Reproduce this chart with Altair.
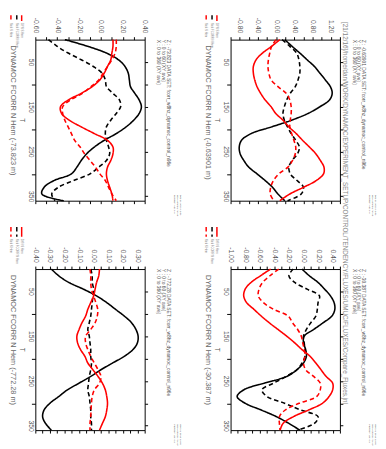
import altair as alt
import pandas as pd

# ---------------- data ----------------
T = [0, 15, 30, 45, 60, 75, 90, 105, 120, 135, 150, 165, 180,
     195, 210, 225, 240, 255, 270, 285, 300, 315, 330, 345, 360]

SERIES = ["DYNAMOC FCORR N Hem", "Nick FCORR N Hem", "DYN S Hem", "Nick S Hem"]
COLORS = ["#000000", "#000000", "#ff0000", "#ff0000"]
DASHES = [[1, 0], [4.5, 3], [1, 0], [4.5, 3]]

A_BLACK_SOLID = [-0.33, -0.12, 0.05, 0.16, 0.22, 0.25, 0.26, 0.27, 0.31, 0.35, 0.37, 0.35, 0.30,
                 0.23, 0.14, 0.03, -0.06, -0.13, -0.18, -0.22, -0.27, -0.43, -0.52, -0.54, -0.34]
A_BLACK_DASH = [-0.48, -0.40, -0.30, -0.18, -0.07, 0.01, 0.04, 0.05, 0.11, 0.17, 0.18, 0.14, 0.09,
                0.05, 0.04, 0.05, 0.07, 0.08, 0.05, -0.02, -0.10, -0.25, -0.39, -0.45, -0.42]
A_RED_SOLID = [0.11, 0.11, 0.10, 0.09, 0.06, 0.03, -0.01, -0.08, -0.18, -0.30, -0.37, -0.36, -0.29,
               -0.18, -0.06, 0.06, 0.11, 0.11, 0.09, 0.06, 0.05, 0.06, 0.08, 0.10, 0.11]
A_RED_DASH = [0.14, 0.14, 0.13, 0.10, 0.06, 0.02, -0.02, -0.09, -0.17, -0.28, -0.35, -0.35, -0.33,
              -0.30, -0.27, -0.24, -0.19, -0.15, -0.10, -0.05, -0.01, 0.04, 0.07, 0.10, 0.14]

B_BLACK_SOLID = [0.19, 0.35, 0.52, 0.68, 0.84, 0.96, 1.08, 1.19, 1.23, 1.17, 0.96, 0.70, 0.34,
                 -0.10, -0.55, -0.76, -0.81, -0.79, -0.71, -0.60, -0.42, -0.24, -0.08, 0.04, 0.19]
B_BLACK_DASH = [0.13, 0.30, 0.45, 0.50, 0.52, 0.52, 0.48, 0.42, 0.31, 0.23, 0.18, 0.15, 0.18,
                0.25, 0.33, 0.43, 0.51, 0.47, 0.35, 0.28, 0.31, 0.46, 0.60, 0.55, 0.25]
B_RED_SOLID = [0.08, -0.10, -0.30, -0.44, -0.50, -0.50, -0.47, -0.42, -0.34, -0.24, -0.11, -0.01, 0.15,
               0.28, 0.44, 0.58, 0.73, 0.87, 0.97, 1.05, 1.04, 0.88, 0.60, 0.30, 0.08]
B_RED_DASH = [0.00, -0.10, -0.14, -0.17, -0.18, -0.16, -0.11, 0.04, 0.22, 0.30, 0.33, 0.33, 0.31,
              0.30, 0.34, 0.39, 0.43, 0.42, 0.36, 0.26, 0.06, -0.06, -0.12, -0.13, -0.05]

C_BLACK_SOLID = [-0.29, -0.24, -0.17, -0.07, 0.02, 0.09, 0.15, 0.21, 0.26, 0.29, 0.305, 0.30, 0.27,
                 0.21, 0.13, 0.05, -0.02, -0.10, -0.18, -0.24, -0.30, -0.34, -0.35, -0.33, -0.29]
C_BLACK_DASH = [-0.02, -0.01, -0.01, 0.00, -0.005, -0.01, -0.015, -0.02, -0.03, -0.04, -0.03, -0.025, -0.02,
                -0.02, -0.015, -0.02, -0.03, -0.035, -0.04, -0.03, -0.025, -0.02, -0.02, -0.015, -0.015]
C_RED_SOLID = [0.04, 0.035, 0.02, 0.01, 0.0, -0.02, -0.04, -0.055, -0.08, -0.10, -0.115, -0.11, -0.09,
               -0.06, -0.04, -0.005, 0.03, 0.06, 0.08, 0.09, 0.095, 0.09, 0.08, 0.06, 0.04]
C_RED_DASH = [-0.025, -0.02, -0.02, -0.015, 0.0, 0.015, 0.028, 0.025, 0.01, -0.02, -0.055, -0.055, -0.04,
              -0.02, 0.005, 0.03, 0.05, 0.04, 0.005, -0.01, -0.015, -0.018, -0.02, -0.025, -0.025]

D_BLACK_SOLID = [-0.02, 0.08, 0.20, 0.29, 0.37, 0.42, 0.43, 0.39, 0.27, 0.14, 0.01, 0.0, 0.03,
                 0.04, 0.00, -0.09, -0.23, -0.54, -0.82, -0.91, -0.80, -0.58, -0.37, -0.20, -0.05]
D_BLACK_DASH = [-0.14, -0.20, -0.12, 0.05, 0.22, 0.20, 0.19, 0.17, 0.10, 0.04, 0.0, 0.01, 0.02,
                0.02, -0.02, -0.09, -0.24, -0.41, -0.57, -0.50, -0.26, -0.04, 0.20, 0.15, -0.09]
D_RED_SOLID = [-0.45, -0.59, -0.72, -0.80, -0.82, -0.78, -0.68, -0.58, -0.47, -0.35, -0.23, -0.12, -0.02,
               0.09, 0.17, 0.24, 0.31, 0.40, 0.40, 0.35, 0.26, 0.07, -0.14, -0.28, -0.32]
D_RED_DASH = [-0.34, -0.46, -0.56, -0.61, -0.62, -0.55, -0.41, -0.21, -0.15, -0.08, -0.03, -0.01, 0.01,
              0.02, 0.0, 0.03, 0.14, 0.23, 0.23, 0.18, -0.06, -0.25, -0.33, -0.33, -0.32]

DEPTHS = ["-73.823", "-0.63901", "-772.28", "-30.387"]
A_XTICKS = [-0.6, -0.5, -0.4, -0.3, -0.2, -0.1, 0.0, 0.1, 0.2, 0.3, 0.4]
B_XTICKS = [-1.0, -0.8, -0.6, -0.4, -0.2, 0.0, 0.2, 0.4, 0.6, 0.8, 1.0, 1.2, 1.4]
C_XTICKS = [-0.4, -0.35, -0.3, -0.25, -0.2, -0.15, -0.1, -0.05, 0.0, 0.05, 0.1, 0.15, 0.2, 0.25, 0.3, 0.35]
D_XTICKS = [-1.0, -0.9, -0.8, -0.7, -0.6, -0.5, -0.4, -0.3, -0.2, -0.1, 0.0, 0.1, 0.2, 0.3, 0.4, 0.5]
X_LABEL_STEP = [0.2, 0.4, 0.1, 0.2]
T_TICKS = [50, 100, 150, 200, 250, 300, 350]

PATH = "[21/12/16]/home/dan/WORK/DYNAMOC/EXPERIMENT_SETUP/CONTROL/TENDENCY/FLUXES/UMUC/FLUXES/Compare_Fluxes.jnl"
DATASET = "DATA SET: fcorr_w8hz_dynamoc_control_n96e"
STAMP = ["FERRET Ver. 6.x", "NOAA/PMEL TMAP", "Dec 21 2016 12:06"]

W, H = 112, 165
FONT = "Liberation Sans"
GREY = "#555555"


def text_layer(s, x, y, size, color=GREY, align="left", font=FONT):
    return alt.Chart(pd.DataFrame({"t": [s]})).mark_text(
        angle=90, align=align, baseline="middle", fontSize=size, color=color, font=font
    ).encode(text="t:N", x=alt.value(x), y=alt.value(y))


def panel(depth, series_vals, xticks, lab_step, top_row, with_path):
    rows = []
    for name, vals in zip(SERIES, series_vals):
        for t, v in zip(T, vals):
            rows.append({"T": t, "value": v, "series": name})
    df = pd.DataFrame(rows)
    xdom = [xticks[0], xticks[-1]]
    xscale = alt.Scale(domain=xdom, nice=False, zero=False)
    yscale = alt.Scale(domain=[0, 360], reverse=True, nice=False, zero=False)
    label_expr = (f"abs(datum.value/{lab_step} - round(datum.value/{lab_step})) < 0.001 ? "
                  f"replace(format(datum.value, '.2f'), '\u2212', '-') : ''")
    top_axis = alt.Axis(orient="top", values=xticks, labelExpr=label_expr, title=None,
                        labelAngle=90, labelAlign="right", labelBaseline="middle",
                        labelFontSize=7, labelColor=GREY, labelFont=FONT, labelPadding=4,
                        tickSize=3, tickColor="black", domain=False, grid=False,
                        labelFlush=False, labelOverlap=False)
    left_axis = alt.Axis(orient="left", values=T_TICKS, format="d",
                         labelExpr="datum.value % 100 == 50 ? datum.label : ''", title=None,
                         labelAngle=90, labelAlign="center", labelBaseline="top",
                         labelFontSize=7, labelColor=GREY, labelFont=FONT, labelPadding=-3,
                         tickSize=4, tickColor="black",
                         tickOpacity={"condition": {"test": "datum.value % 100 == 50", "value": 0}, "value": 1},
                         domain=False, grid=False, labelFlush=False, labelOverlap=False)
    bottom_axis = alt.Axis(orient="bottom", values=xticks, labels=False, title=None, tickSize=3,
                           tickColor="black", domain=False, grid=False)
    right_axis = alt.Axis(orient="right", values=T_TICKS, labels=False, title=None, tickSize=3,
                          tickColor="black", domain=False, grid=False)

    lines = alt.Chart(df).mark_line(interpolate="catmull-rom", strokeWidth=1.6).encode(
        x=alt.X("value:Q", scale=xscale, axis=top_axis),
        y=alt.Y("T:Q", scale=yscale, axis=left_axis),
        color=alt.Color("series:N", scale=alt.Scale(domain=SERIES, range=COLORS), legend=None),
        strokeDash=alt.StrokeDash("series:N", scale=alt.Scale(domain=SERIES, range=DASHES), legend=None),
        order=alt.Order("T:Q"),
    )
    carrier = alt.Chart(df).mark_line(opacity=0).encode(
        x=alt.X("value:Q", scale=xscale, axis=bottom_axis),
        y=alt.Y("T:Q", scale=yscale, axis=right_axis),
        detail="series:N",
        order=alt.Order("T:Q"),
    )

    layers = [lines, carrier]

    # title and axis title
    layers.append(text_layer(f"DYNAMOC FCORR N Hem ({depth} m)", -23, 6, 7.5, color="#666666"))
    layers.append(text_layer("T", -14, H / 2, 6.5, align="center"))

    # legend samples (short rules) with labels
    if top_row:
        y1, y2, ty = -25, -19, -17
    else:
        y1, y2, ty = -43, -33, -31
    legend_x = {SERIES[3]: -25, SERIES[1]: -19, SERIES[2]: -14}
    for name in SERIES[1:]:
        i = SERIES.index(name)
        layers.append(
            alt.Chart(pd.DataFrame({"s": [name]})).mark_rule(
                color=COLORS[i], strokeDash=DASHES[i], strokeWidth=1.5
            ).encode(x=alt.value(legend_x[name]), y=alt.value(y1), y2=alt.value(y2))
        )
        layers.append(text_layer(name, legend_x[name], ty, 2.8, color="#777777"))

    # header lines
    layers.append(text_layer("X : 0 to 360 (XY ave)", W + 15, 0, 5))
    layers.append(text_layer("Y : 0 to 60 (XY ave)", W + 20, 0, 5))
    layers.append(text_layer(f"Z : {depth}  {DATASET}", W + 25, 0, 5))

    # ferret stamp
    for k, s in enumerate(STAMP):
        layers.append(text_layer(s, W + 31 + 3 * k, H - 6, 2.5, color="#444444"))

    if with_path:
        layers.append(text_layer(PATH, W + 5, -18, 6.5, color="#888888"))

    return alt.layer(*layers).resolve_axis(x="independent", y="independent").properties(
        width=W, height=H)


pA = panel(DEPTHS[0], [A_BLACK_SOLID, A_BLACK_DASH, A_RED_SOLID, A_RED_DASH], A_XTICKS, X_LABEL_STEP[0], True, False)
pB = panel(DEPTHS[1], [B_BLACK_SOLID, B_BLACK_DASH, B_RED_SOLID, B_RED_DASH], B_XTICKS, X_LABEL_STEP[1], True, True)
pC = panel(DEPTHS[2], [C_BLACK_SOLID, C_BLACK_DASH, C_RED_SOLID, C_RED_DASH], C_XTICKS, X_LABEL_STEP[2], False, False)
pD = panel(DEPTHS[3], [D_BLACK_SOLID, D_BLACK_DASH, D_RED_SOLID, D_RED_DASH], D_XTICKS, X_LABEL_STEP[3], False, False)

chart = alt.concat(pA, pB, pC, pD, columns=2, spacing={"row": 70, "column": 88}, bounds="flush").properties(
    padding=0, background="white"
).configure_view(stroke="black", strokeWidth=1)

chart.save("out.html", embed_options={"renderer": "svg", "actions": False})
